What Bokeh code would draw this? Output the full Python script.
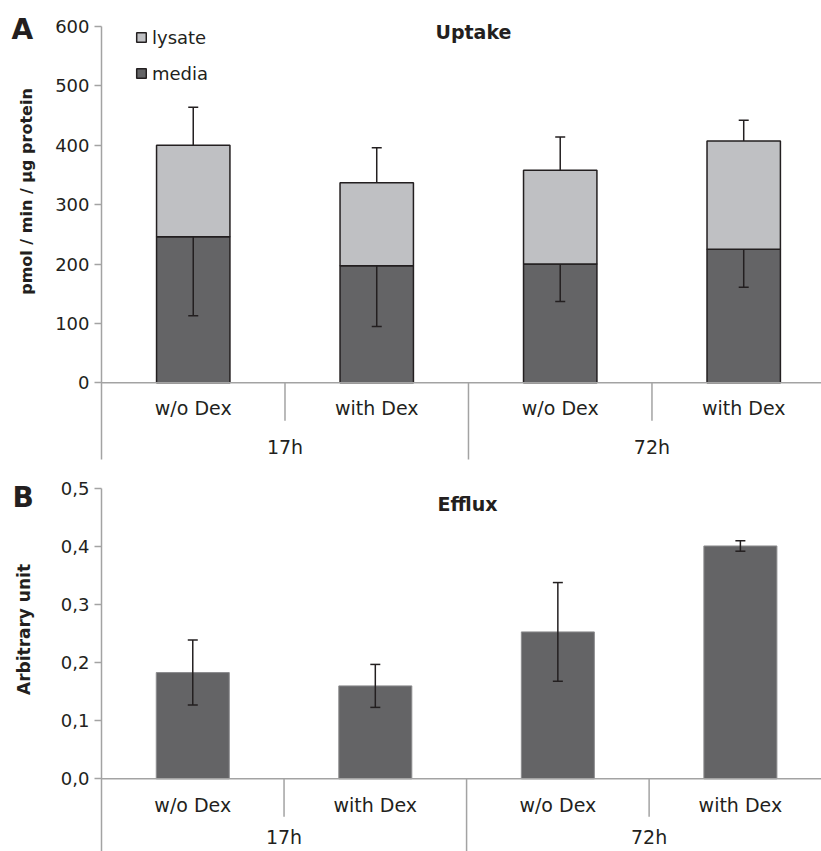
import math
from bokeh.plotting import figure
from bokeh.models import (Range1d, FixedTicker, Span, Whisker, TeeHead, ColumnDataSource,
                          Label, Legend, LegendItem, CustomJSTickFormatter)
from bokeh.layouts import column, row
from bokeh.core.properties import value
from bokeh.embed import file_html
from bokeh.resources import INLINE

# ---------------- data ----------------
conditions = ["w/o Dex", "with Dex", "w/o Dex", "with Dex"]
times = ["17h", "72h"]
uptake_media = [246, 197, 200, 225]
uptake_lysate = [154, 140, 158, 182]
uptake_total_err = [64, 59, 56, 35]     # upward, on total
uptake_media_err = [133, 102, 63, 64]   # downward, on media
uptake_ticks = [0, 100, 200, 300, 400, 500, 600]

efflux = [0.183, 0.160, 0.253, 0.401]
efflux_err = [0.056, 0.037, 0.085, 0.009]
efflux_ticks = [0.0, 0.1, 0.2, 0.3, 0.4, 0.5]

# ---------------- style ----------------
FONT = "DejaVu Sans"
TXT = "#231f20"
AX = "#a3a3a3"
DARK = "#646466"
LIGHT = "#bfc0c3"
EDGE = "#231f20"

xs = [i + 0.5 for i in range(len(conditions))]
n_per_group = len(conditions) // len(times)
group_centers = [g * n_per_group + n_per_group / 2 for g in range(len(times))]
short_seps = group_centers
long_seps = [g * n_per_group for g in range(1, len(times))]

STRIP_W = 52
MAIN_W = 821 - STRIP_W


def base_fig(height, x_end, y_start, y_end, y_top_tick, border_bottom, border_left,
             lab_off, grp_off):
    p = figure(width=MAIN_W, height=height, output_backend="svg", toolbar_location=None,
               x_range=Range1d(0, x_end), y_range=Range1d(y_start, y_end),
               x_axis_location=None, min_border_left=border_left, min_border_right=0,
               min_border_top=0, min_border_bottom=border_bottom)
    p.outline_line_color = None
    p.grid.visible = False
    ax = p.yaxis[0]
    ax.bounds = (y_start, y_top_tick)
    ax.axis_line_color = AX
    ax.axis_line_width = 1.5
    ax.major_tick_line_color = AX
    ax.major_tick_line_width = 1.5
    ax.major_tick_out = 7
    ax.major_tick_in = 0
    ax.minor_tick_line_color = None
    ax.major_label_text_font = FONT
    ax.major_label_text_font_size = "18px"
    ax.major_label_text_color = TXT
    ax.major_label_standoff = 5
    p.add_layout(Span(location=0, dimension="width", line_color=AX, line_width=1.5))
    # category separators
    p.ray(x=short_seps, y=[0] * len(short_seps), length=38, angle=-math.pi / 2,
          length_units="screen", line_color=AX, line_width=1.5)
    p.ray(x=long_seps, y=[0] * len(long_seps), length=0, angle=-math.pi / 2,
          line_color=AX, line_width=1.5)
    # category labels
    p.text(x=xs, y=[0] * len(xs), text=conditions, y_offset=lab_off,
           text_font=value(FONT), text_font_size="19px", text_color=TXT,
           text_align="center", text_baseline="middle")
    p.text(x=group_centers, y=[0] * len(group_centers), text=times, y_offset=grp_off,
           text_font=value(FONT), text_font_size="19px", text_color=TXT,
           text_align="center", text_baseline="middle")
    return p


# ---------------- panel A ----------------
top_h = 478
cat_w_a = 184.0
frame_w_a = MAIN_W - 47
y_scale_a = 356.3 / 600.0        # px per unit
zero_a = 382.3                   # page y of value 0
ya_end = zero_a / y_scale_a
ya_start = -(459 - zero_a) / y_scale_a
pa = base_fig(top_h, frame_w_a / cat_w_a, ya_start, ya_end, uptake_ticks[-1], 19, 47, 25, 64)
pa.yaxis[0].ticker = FixedTicker(ticks=uptake_ticks)

totals = [m + l for m, l in zip(uptake_media, uptake_lysate)]
src_a = ColumnDataSource(dict(
    x=xs, media=uptake_media, total=totals,
    tot_up=[t + e for t, e in zip(totals, uptake_total_err)],
    med_dn=[m - e for m, e in zip(uptake_media, uptake_media_err)]))
r_med = pa.vbar(x="x", top="media", bottom=0, width=0.4, source=src_a,
                fill_color=DARK, line_color=EDGE, line_width=1.5)
r_lys = pa.vbar(x="x", top="total", bottom="media", width=0.4, source=src_a,
                fill_color=LIGHT, line_color=EDGE, line_width=1.5)
pa.add_layout(Whisker(base="x", lower="total", upper="tot_up", source=src_a, level="overlay",
                      line_color=EDGE, line_width=1.5, lower_head=None,
                      upper_head=TeeHead(size=10, line_color=EDGE, line_width=1.5)))
pa.add_layout(Whisker(base="x", lower="med_dn", upper="media", source=src_a, level="overlay",
                      line_color=EDGE, line_width=1.5, upper_head=None,
                      lower_head=TeeHead(size=10, line_color=EDGE, line_width=1.5)))

legend = Legend(items=[LegendItem(label="lysate", renderers=[r_lys]),
                       LegendItem(label="media", renderers=[r_med])],
                location=(34, 459 - 84), padding=0, margin=0, spacing=14,
                glyph_width=12, glyph_height=12, label_height=22, label_standoff=5,
                label_text_font=FONT, label_text_font_size="18px", label_text_color=TXT,
                background_fill_alpha=0, border_line_color=None)
pa.add_layout(legend)

pa.add_layout(Label(x=(472 - 99) / cat_w_a, y=(zero_a - 31) / y_scale_a, text="Uptake",
                    text_font=FONT, text_font_size="19px", text_font_style="bold",
                    text_color=TXT, text_align="center", text_baseline="alphabetic"))

# ---------------- panel B ----------------
bot_h = 851 - top_h
cat_w_b = 183.3
frame_w_b = MAIN_W - 46
y_scale_b = 580.6                # px per unit
zero_b = 778.3 - top_h           # figure-relative y of value 0
yb_end = zero_b / y_scale_b
yb_start = -(bot_h - zero_b) / y_scale_b
pb = base_fig(bot_h, frame_w_b / cat_w_b, yb_start, yb_end, efflux_ticks[-1], 0, 46, 26, 58)
pb.yaxis[0].ticker = FixedTicker(ticks=efflux_ticks)
pb.yaxis[0].formatter = CustomJSTickFormatter(code="return tick.toFixed(1).replace('.', ',');")

src_b = ColumnDataSource(dict(
    x=xs, top=efflux,
    up=[v + e for v, e in zip(efflux, efflux_err)],
    dn=[v - e for v, e in zip(efflux, efflux_err)]))
pb.vbar(x="x", top="top", bottom=0, width=0.4, source=src_b,
        fill_color=DARK, line_color="#8c8c8e", line_width=1)
pb.add_layout(Whisker(base="x", lower="dn", upper="up", source=src_b, level="overlay",
                      line_color=EDGE, line_width=1.5,
                      upper_head=TeeHead(size=10, line_color=EDGE, line_width=1.5),
                      lower_head=TeeHead(size=10, line_color=EDGE, line_width=1.5)))

pb.add_layout(Label(x=(465.5 - 98) / cat_w_b, y=(778.3 - 503) / y_scale_b, text="Efflux",
                    text_font=FONT, text_font_size="19px", text_font_style="bold",
                    text_color=TXT, text_align="center", text_baseline="alphabetic"))

# ---------------- left strip: panel letters and y-axis titles ----------------
strip = figure(width=STRIP_W, height=851, output_backend="svg", toolbar_location=None,
               x_range=Range1d(0, STRIP_W), y_range=Range1d(0, 851),
               x_axis_location=None, y_axis_location=None,
               min_border_left=0, min_border_right=0, min_border_top=0, min_border_bottom=0)
strip.outline_line_color = None
strip.grid.visible = False
strip.text(x=[11, 12], y=[851 - 29, 851 - 497], text=["A", "B"], text_font=value(FONT),
           text_font_size="28px", text_font_style="bold", text_color=TXT,
           text_align="left", text_baseline="middle")
strip.text(x=[26], y=[851 - 191], text=["pmol / min / µg protein"], text_font=value(FONT),
           text_font_size="16px", text_font_style="bold", text_color=TXT,
           text_align="center", text_baseline="middle", angle=math.pi / 2)
strip.text(x=[23], y=[851 - 629], text=["Arbitrary unit"], text_font=value(FONT),
           text_font_size="17px", text_font_style="bold", text_color=TXT,
           text_align="center", text_baseline="middle", angle=math.pi / 2)

layout = row(strip, column(pa, pb, spacing=0), spacing=0)
open("out.html", "w").write(file_html(layout, INLINE))
